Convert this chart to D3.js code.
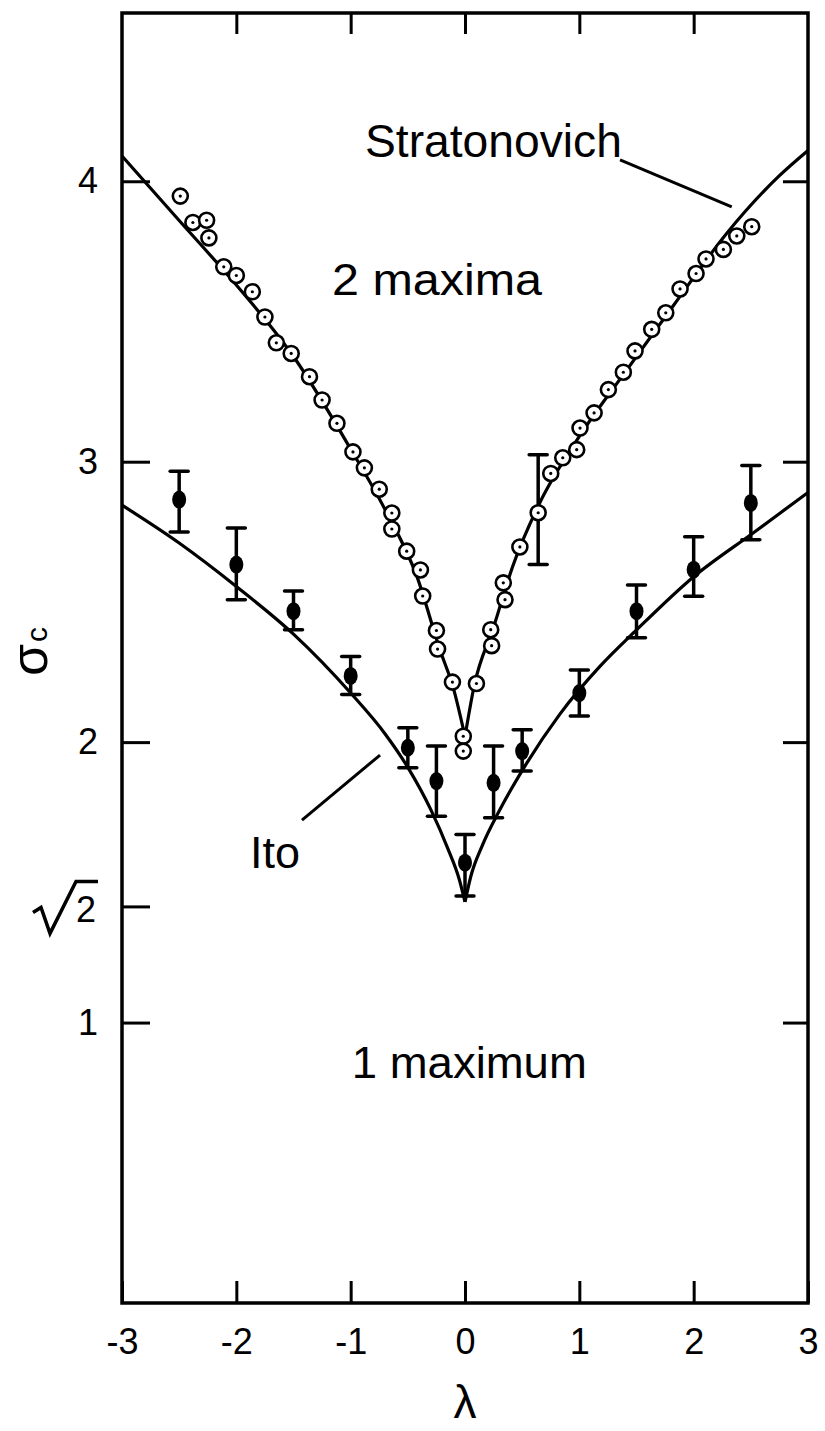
<!DOCTYPE html>
<html>
<head>
<meta charset="utf-8">
<script src="https://cdn.jsdelivr.net/npm/d3@7"></script>
<style>
  body { margin: 0; background: #fff; }
  svg text { font-family: "Liberation Sans", Arial, sans-serif; fill: #000; }
</style>
</head>
<body>
<div id="chart"></div>
<script>
// axis ticks
var xTicks = [-3, -2, -1, 0, 1, 2, 3],
    xInnerTicks = [-2, -1, 0, 1, 2],
    yTicks = [1, Math.SQRT2, 2, 3, 4],
    yRightTicks = [1, 2, 3, 4];

// Stratonovich theory curve (two branches, cusp at 0)
var stratLeft = [[-3, 4.09], [-2.5, 3.86], [-2, 3.63], [-1.5, 3.375], [-1, 3.045],
                 [-0.7, 2.83], [-0.42, 2.59], [-0.22, 2.33], [-0.1, 2.19], [0, 2.02]];
var stratRight = [[0, 2.02], [0.08, 2.2], [0.25, 2.41], [0.42, 2.63], [0.65, 2.85],
                  [1, 3.09], [1.42, 3.33], [1.82, 3.555], [2.29, 3.815], [2.75, 4.02], [3, 4.11]];

// Ito theory curve
var itoLeft = [[-3, 2.845], [-2.5, 2.71], [-2, 2.555], [-1.5, 2.385], [-1, 2.175],
               [-0.7, 2.03], [-0.5, 1.91], [-0.3, 1.76], [-0.15, 1.62], [-0.05, 1.51], [0, 1.43]];
var itoRight = [[0, 1.43], [0.05, 1.52], [0.15, 1.63], [0.3, 1.755], [0.54, 1.925], [0.83, 2.1],
                [1.18, 2.27], [1.5, 2.4], [2, 2.59], [2.52, 2.746], [3, 2.89]];

// open circles (Stratonovich simulation)
var stratLambda = [-2.49, -2.38, -2.26, -2.24, -2.11, -2.0, -1.86, -1.75, -1.65, -1.52,
                   -1.36, -1.25, -1.12, -0.98, -0.88, -0.75, -0.64, -0.64, -0.51, -0.39,
                   -0.37, -0.25, -0.24, -0.11, -0.015, -0.015, 0.1, 0.225, 0.233, 0.335,
                   0.35, 0.48, 0.64, 0.75, 0.855, 0.977, 1.006, 1.129, 1.254, 1.385,
                   1.487, 1.633, 1.756, 1.881, 2.021, 2.108, 2.26, 2.377, 2.508];
var stratSigma = [3.947, 3.853, 3.861, 3.798, 3.695, 3.664, 3.606, 3.516, 3.424, 3.386,
                  3.303, 3.22, 3.137, 3.035, 2.978, 2.902, 2.817, 2.76, 2.681, 2.614,
                  2.521, 2.398, 2.332, 2.214, 2.021, 1.968, 2.209, 2.401, 2.344, 2.568,
                  2.508, 2.696, 2.818, 2.958, 3.014, 3.043, 3.12, 3.174, 3.257, 3.319,
                  3.395, 3.472, 3.531, 3.616, 3.671, 3.723, 3.757, 3.805, 3.838];
// the one open circle with an error bar
var stratErr = {lambda: 0.64, hi: 3.025, lo: 2.633};

// filled points (Ito simulation) with error bars
var itoLambda = [-2.5, -2, -1.5, -1, -0.5, -0.25, 0, 0.25, 0.5, 1, 1.5, 2, 2.5];
var itoSigma  = [2.865, 2.633, 2.467, 2.236, 1.98, 1.861, 1.57, 1.855, 1.968, 2.175, 2.467, 2.615, 2.853];
var itoHi     = [2.966, 2.764, 2.539, 2.305, 2.051, 1.986, 1.671, 1.986, 2.044, 2.257, 2.56, 2.732, 2.986];
var itoLo     = [2.749, 2.508, 2.401, 2.17, 1.909, 1.736, 1.451, 1.73, 1.897, 2.093, 2.372, 2.52, 2.722];

var W = 825, H = 1431,
    plotL = 122, plotR = 808, plotT = 13, plotB = 1303;

var svg = d3.select('#chart').append('svg')
    .attr('width', W).attr('height', H);

var x = d3.scaleLinear().domain([-3, 3]).range([plotL, plotR]),
    y = d3.scaleLinear().domain([0, 4.6]).range([plotB, plotT]);

// axes (ticks point inward)
svg.append('g')
    .attr('transform', 'translate(0,' + plotB + ')')
    .call(d3.axisBottom(x).tickValues(xTicks).tickSizeInner(-22).tickSizeOuter(0)
        .tickPadding(25).tickFormat(function (d) { return String(d); }))
    .call(function (g) { g.select('.domain').remove(); });
svg.append('g')
    .attr('transform', 'translate(0,' + plotT + ')')
    .call(d3.axisTop(x).tickValues(xInnerTicks).tickSizeInner(-21).tickSizeOuter(0).tickFormat(''))
    .call(function (g) { g.select('.domain').remove(); });
svg.append('g')
    .attr('transform', 'translate(' + plotL + ',0)')
    .call(d3.axisLeft(y).tickValues(yTicks).tickSizeInner(-28).tickSizeOuter(0)
        .tickPadding(24).tickFormat(function (d) { return d === Math.SQRT2 ? '' : String(d); }))
    .call(function (g) { g.select('.domain').remove(); });
svg.append('g')
    .attr('transform', 'translate(' + plotR + ',0)')
    .call(d3.axisRight(y).tickValues(yRightTicks).tickSizeInner(-25).tickSizeOuter(0).tickFormat(''))
    .call(function (g) { g.select('.domain').remove(); });

svg.selectAll('.tick line').attr('stroke', '#000').attr('stroke-width', 3);
svg.selectAll('.tick text').attr('font-size', 36).attr('fill', '#000')
    .style('font-family', '"Liberation Sans", Arial, sans-serif');

// frame
svg.append('rect')
    .attr('x', plotL).attr('y', plotT)
    .attr('width', plotR - plotL).attr('height', plotB - plotT)
    .attr('fill', 'none').attr('stroke', '#000').attr('stroke-width', 3.5);

// sqrt(2) label
var r2 = y(Math.SQRT2);
svg.append('path')
    .attr('d', 'M33,' + (r2 + 6) + 'L41,' + (r2 + 1) + 'L50,' + (r2 + 27) +
               'L76,' + (r2 - 25) + 'L98,' + (r2 - 25))
    .attr('fill', 'none').attr('stroke', '#000').attr('stroke-width', 3.5)
    .attr('stroke-linejoin', 'miter');
svg.append('text')
    .attr('x', 86).attr('y', r2 + 16)
    .attr('text-anchor', 'middle').attr('font-size', 36)
    .text('2');

// theory curves
var line = d3.line()
    .x(function (d) { return x(d[0]); })
    .y(function (d) { return y(d[1]); })
    .curve(d3.curveMonotoneX);

[stratLeft, stratRight, itoLeft, itoRight].forEach(function (branch) {
    svg.append('path')
        .attr('d', line(branch))
        .attr('fill', 'none').attr('stroke', '#000').attr('stroke-width', 3.2);
});

// error bars
function errBar(lx, hi, lo) {
    var g = svg.append('g');
    g.append('line')
        .attr('x1', x(lx)).attr('x2', x(lx))
        .attr('y1', y(hi)).attr('y2', y(lo))
        .attr('stroke', '#000').attr('stroke-width', 3.5);
    [hi, lo].forEach(function (v) {
        g.append('line')
            .attr('x1', x(lx) - 9).attr('x2', x(lx) + 9)
            .attr('y1', y(v)).attr('y2', y(v))
            .attr('stroke', '#000').attr('stroke-width', 3.5)
            .attr('stroke-linecap', 'round');
    });
}

itoLambda.forEach(function (l, i) { errBar(l, itoHi[i], itoLo[i]); });
errBar(stratErr.lambda, stratErr.hi, stratErr.lo);

svg.append('g').selectAll('ellipse')
    .data(itoLambda)
    .enter().append('ellipse')
    .attr('cx', function (d) { return x(d); })
    .attr('cy', function (d, i) { return y(itoSigma[i]); })
    .attr('rx', 7).attr('ry', 9)
    .attr('fill', '#000');

// open circles with a dot
var circ = svg.append('g').selectAll('g')
    .data(stratLambda)
    .enter().append('g')
    .attr('transform', function (d, i) {
        return 'translate(' + x(d) + ',' + y(stratSigma[i]) + ')';
    });
circ.append('circle').attr('r', 7.5)
    .attr('fill', '#fff').attr('stroke', '#000').attr('stroke-width', 2.6);
circ.append('circle').attr('r', 1.6).attr('fill', '#000');

// annotations
function leader(a, b) {
    svg.append('line')
        .attr('x1', x(a[0])).attr('y1', y(a[1]))
        .attr('x2', x(b[0])).attr('y2', y(b[1]))
        .attr('stroke', '#000').attr('stroke-width', 3);
}
leader([1.356, 4.076], [2.333, 3.909]);
leader([-1.426, 1.722], [-0.743, 1.954]);

function label(txt, lx, ly, size, len) {
    var t = svg.append('text')
        .attr('x', x(lx)).attr('y', y(ly))
        .attr('font-size', size)
        .text(txt);
    if (len) { t.attr('textLength', len).attr('lengthAdjust', 'spacingAndGlyphs'); }
    return t;
}
label('Stratonovich', -0.875, 4.087, 46, 257);
label('2 maxima', -1.163, 3.595, 44, 210);
label('Ito', -1.88, 1.551, 44, 50);
label('1 maximum', -0.99, 0.803, 44, 235);

// axis titles
svg.append('text')
    .attr('transform', 'translate(47,676) rotate(-90)')
    .attr('font-size', 52)
    .text('σ')
    .append('tspan').attr('font-size', 30).attr('dx', 2).text('c');

svg.append('text')
    .attr('x', x(0)).attr('y', 1418)
    .attr('text-anchor', 'middle').attr('font-size', 46)
    .text('λ');
</script>
</body>
</html>
